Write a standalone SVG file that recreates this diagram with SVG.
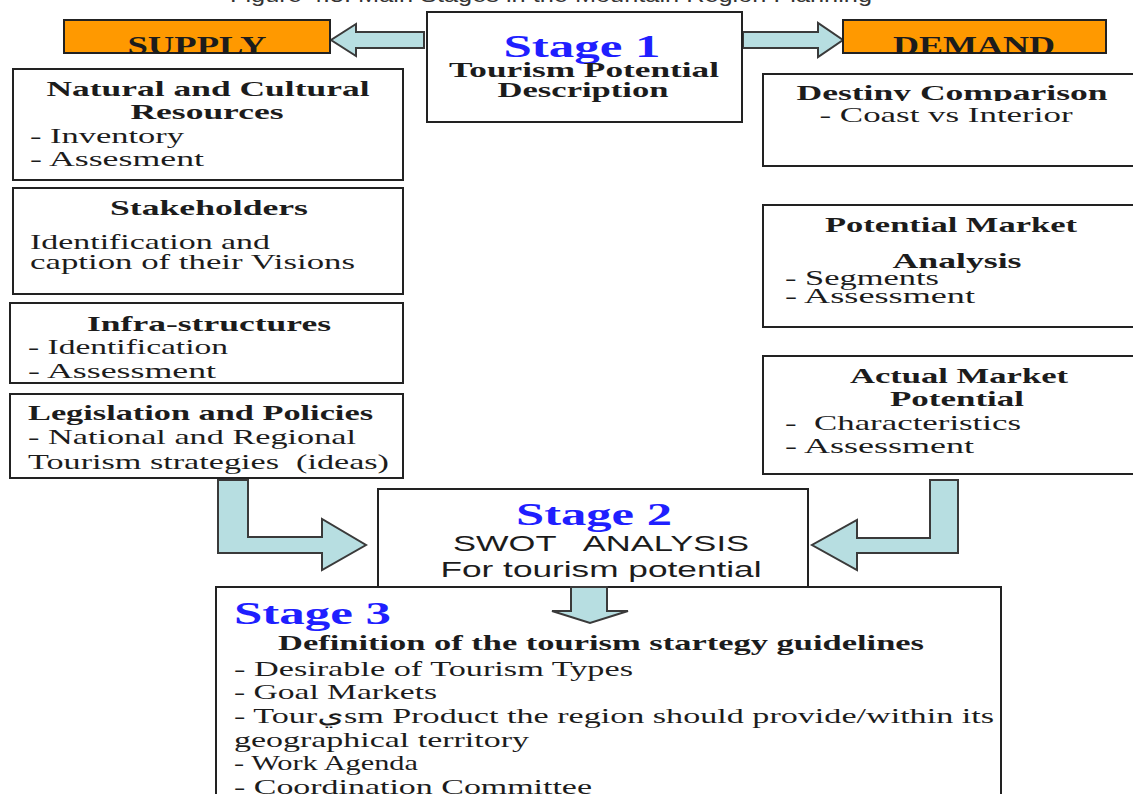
<svg xmlns="http://www.w3.org/2000/svg" width="1133" height="794" viewBox="0 0 1133 794">
  <style>
    .box { fill: #ffffff; stroke: #222222; stroke-width: 2; }
    .tag { fill: #ff9900; stroke: #222222; stroke-width: 2; }
    .arrow { fill: #b7dee1; stroke: #3a3a3a; stroke-width: 2; stroke-linejoin: miter; }
    .h { font-family: "Liberation Serif", "Times New Roman", serif; font-weight: bold; font-size: 22px; fill: #1c1c1c; }
    .tagtext { font-family: "Liberation Serif", "Times New Roman", serif; font-weight: bold; font-size: 25px; fill: #1c1c1c; }
    .t { font-family: "Liberation Serif", "Times New Roman", "DejaVu Sans", serif; font-size: 22px; fill: #1c1c1c; }
    .stage { font-family: "Liberation Serif", "Times New Roman", serif; font-weight: bold; font-size: 31px; fill: #1f1fff; }
    .sans { font-family: "Liberation Sans", Arial, sans-serif; font-size: 22px; fill: #1c1c1c; }
    .cap { font-family: "Liberation Sans", Arial, sans-serif; font-size: 20px; fill: #333333; }
  </style>
  <defs>
    <clipPath id="clipSupply"><rect x="64" y="20" width="266" height="34"/></clipPath>
    <clipPath id="clipDemand"><rect x="843" y="20" width="263" height="34"/></clipPath>
    <clipPath id="clipDestiny"><rect x="763" y="74" width="380" height="27"/></clipPath>
  </defs>

  <rect width="1133" height="794" fill="#ffffff"/>

  <!-- figure caption, running off the top edge -->
  <text class="cap" x="230" y="1.5" textLength="642" lengthAdjust="spacingAndGlyphs">Figure 4.5: Main Stages in the Mountain Region Planning</text>

  <!-- block arrows -->
  <g id="connectors">
    <polygon class="arrow" points="424,32 356,32 356,24 331,40 356,56 356,48 424,48"/>
    <polygon class="arrow" points="743,32 818,32 818,23 843,40 818,57 818,48 743,48"/>
    <polygon class="arrow" points="218,480 248,480 248,537 322,537 322,519 366,545 322,570 322,553 218,553"/>
    <polygon class="arrow" points="958,480 930,480 930,538 857,538 857,520 812,545 857,570 857,553 958,553"/>
  </g>

  <g id="supply">
    <rect class="tag" x="64" y="20" width="266" height="33"/>
    <text class="tagtext" x="197" y="54" text-anchor="middle" textLength="139" lengthAdjust="spacingAndGlyphs" clip-path="url(#clipSupply)">SUPPLY</text>
  </g>

  <g id="demand">
    <rect class="tag" x="843" y="20" width="263" height="33"/>
    <text class="tagtext" x="974" y="54" text-anchor="middle" textLength="162" lengthAdjust="spacingAndGlyphs" clip-path="url(#clipDemand)">DEMAND</text>
  </g>

  <g id="stage1">
    <rect class="box" x="427" y="12" width="315" height="110"/>
    <text class="stage" x="582" y="57" text-anchor="middle" textLength="157" lengthAdjust="spacingAndGlyphs">Stage 1</text>
    <text class="h" x="584" y="77" text-anchor="middle" textLength="270" lengthAdjust="spacingAndGlyphs">Tourism Potential</text>
    <text class="h" x="583" y="97" text-anchor="middle" textLength="171" lengthAdjust="spacingAndGlyphs">Description</text>
  </g>

  <g id="natural-resources">
    <rect class="box" x="13" y="69" width="390" height="111"/>
    <text class="h" x="208" y="96" text-anchor="middle" textLength="323" lengthAdjust="spacingAndGlyphs">Natural and Cultural</text>
    <text class="h" x="207" y="119" text-anchor="middle" textLength="153" lengthAdjust="spacingAndGlyphs">Resources</text>
    <text class="t" x="30" y="143" textLength="154" lengthAdjust="spacingAndGlyphs">- Inventory</text>
    <text class="t" x="30" y="166" textLength="174" lengthAdjust="spacingAndGlyphs">- Assesment</text>
  </g>

  <g id="stakeholders">
    <rect class="box" x="13" y="188" width="390" height="106"/>
    <text class="h" x="209" y="215" text-anchor="middle" textLength="198" lengthAdjust="spacingAndGlyphs">Stakeholders</text>
    <text class="t" x="30" y="249" textLength="240" lengthAdjust="spacingAndGlyphs">Identification and</text>
    <text class="t" x="30" y="269" textLength="325" lengthAdjust="spacingAndGlyphs">caption of their Visions</text>
  </g>

  <g id="infrastructures">
    <rect class="box" x="10" y="303" width="393" height="80"/>
    <text class="h" x="209" y="331" text-anchor="middle" textLength="244" lengthAdjust="spacingAndGlyphs">Infra-structures</text>
    <text class="t" x="28" y="354" textLength="200" lengthAdjust="spacingAndGlyphs">- Identification</text>
    <text class="t" x="28" y="378" textLength="188" lengthAdjust="spacingAndGlyphs">- Assessment</text>
  </g>

  <g id="legislation">
    <rect class="box" x="10" y="394" width="393" height="84"/>
    <text class="h" x="28" y="420" textLength="345" lengthAdjust="spacingAndGlyphs">Legislation and Policies</text>
    <text class="t" x="28" y="444" textLength="328" lengthAdjust="spacingAndGlyphs">- National and Regional</text>
    <text class="t" x="28" y="469" textLength="361" lengthAdjust="spacingAndGlyphs" xml:space="preserve">Tourism strategies  (ideas)</text>
  </g>

  <g id="destiny-comparison">
    <rect class="box" x="763" y="74" width="380" height="92"/>
    <text class="h" x="952" y="100" text-anchor="middle" textLength="311" lengthAdjust="spacingAndGlyphs" clip-path="url(#clipDestiny)">Destiny Comparison</text>
    <text class="t" x="946" y="122" text-anchor="middle" textLength="253" lengthAdjust="spacingAndGlyphs">- Coast vs Interior</text>
  </g>

  <g id="potential-market">
    <rect class="box" x="763" y="205" width="380" height="122"/>
    <text class="h" x="951" y="232" text-anchor="middle" textLength="252" lengthAdjust="spacingAndGlyphs">Potential Market</text>
    <text class="h" x="957" y="268" text-anchor="middle" textLength="129" lengthAdjust="spacingAndGlyphs">Analysis</text>
    <text class="t" x="785" y="285" textLength="154" lengthAdjust="spacingAndGlyphs">- Segments</text>
    <text class="t" x="785" y="303" textLength="190" lengthAdjust="spacingAndGlyphs">- Assessment</text>
  </g>

  <g id="actual-market">
    <rect class="box" x="763" y="356" width="380" height="118"/>
    <text class="h" x="959" y="383" text-anchor="middle" textLength="218" lengthAdjust="spacingAndGlyphs">Actual Market</text>
    <text class="h" x="957" y="406" text-anchor="middle" textLength="134" lengthAdjust="spacingAndGlyphs">Potential</text>
    <text class="t" x="785" y="430" textLength="236" lengthAdjust="spacingAndGlyphs" xml:space="preserve">-  Characteristics</text>
    <text class="t" x="785" y="453" textLength="189" lengthAdjust="spacingAndGlyphs">- Assessment</text>
  </g>

  <g id="stage2">
    <rect class="box" x="378" y="489" width="430" height="98"/>
    <text class="stage" x="594" y="525" text-anchor="middle" textLength="156" lengthAdjust="spacingAndGlyphs">Stage 2</text>
    <text class="sans" x="601" y="551" text-anchor="middle" textLength="296" lengthAdjust="spacingAndGlyphs" xml:space="preserve">SWOT   ANALYSIS</text>
    <text class="sans" x="601" y="577" text-anchor="middle" textLength="321" lengthAdjust="spacingAndGlyphs">For tourism potential</text>
  </g>

  <g id="stage3">
    <rect class="box" x="216" y="587" width="785" height="220"/>
    <text class="stage" x="234" y="624" textLength="157" lengthAdjust="spacingAndGlyphs">Stage 3</text>
    <text class="h" x="278" y="650" textLength="646" lengthAdjust="spacingAndGlyphs">Definition of the tourism startegy guidelines</text>
    <text class="t" x="234" y="676" textLength="399" lengthAdjust="spacingAndGlyphs">- Desirable of Tourism Types</text>
    <text class="t" x="234" y="699" textLength="203" lengthAdjust="spacingAndGlyphs">- Goal Markets</text>
    <text class="t" x="234" y="723" textLength="760" lengthAdjust="spacingAndGlyphs">- Tourيsm Product the region should provide/within its</text>
    <text class="t" x="234" y="747" textLength="295" lengthAdjust="spacingAndGlyphs">geographical territory</text>
    <text class="t" x="234" y="770" textLength="184" lengthAdjust="spacingAndGlyphs">- Work Agenda</text>
    <text class="t" x="234" y="794" textLength="358" lengthAdjust="spacingAndGlyphs">- Coordination Committee</text>
  </g>

  <!-- Stage 2 to Stage 3 arrow, drawn over the shared border -->
  <g id="connectors-down">
    <polygon class="arrow" points="571,587 607,587 607,611 628,611 590,623 552,611 571,611"/>
  </g>
</svg>
